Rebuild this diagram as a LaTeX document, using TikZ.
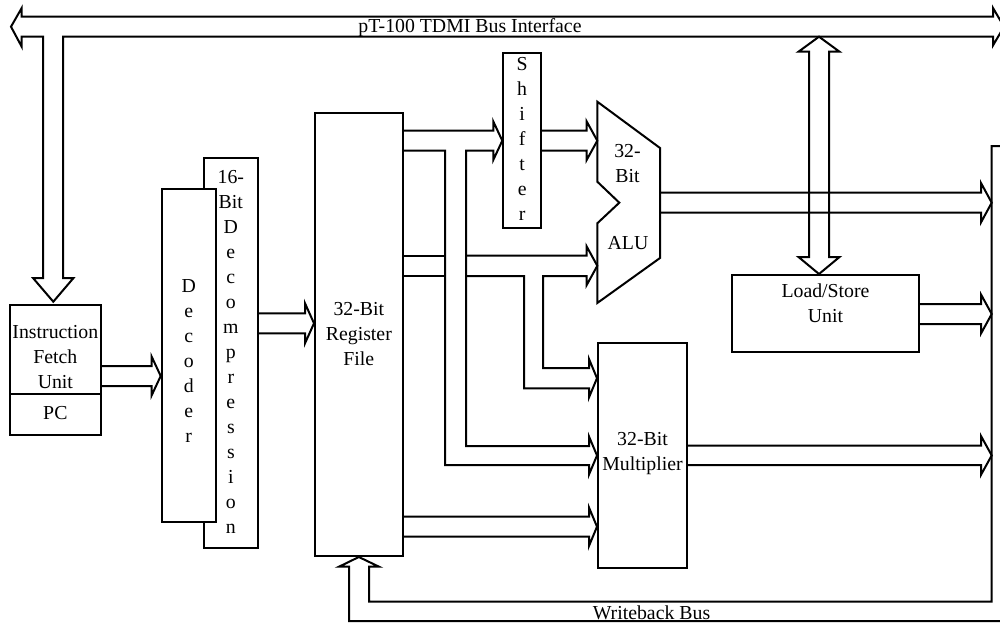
\documentclass[tikz,border=0pt]{standalone}
\usepackage{fontspec}
\setmainfont{Liberation Serif}
\begin{document}
\begin{tikzpicture}[x=1pt,y=-1pt,
  every node/.style={font=\fontsize{19.8}{25}\selectfont},
  box/.style={draw,line width=2pt,fill=white,inner sep=0pt},
  lbl/.style={inner sep=0pt,align=center,execute at begin node=\strut,execute at end node=\strut},
  bus/.style={line width=2pt}]
\useasboundingbox (0,0) rectangle (1000,623);

% blocks
\node[box,minimum width=90.7pt,minimum height=130pt] (ifu) at (55.35,370) {};
\node[box,lbl,minimum width=90.7pt,minimum height=41pt] (pc) at (55.35,414.5) {PC};
\node[lbl] (ifut) at (55.35,361) {Instruction\\Fetch\\Unit};
\node[box,minimum width=53.7pt,minimum height=390pt] (decomp) at (230.85,353) {};
\node[lbl] (decompt) at (230.85,356) {16-\\Bit\\D\\e\\c\\o\\m\\p\\r\\e\\s\\s\\i\\o\\n};
\node[box,minimum width=54pt,minimum height=333pt] (dec) at (188.7,355.5) {};
\node[lbl] (dect) at (188.7,364.5) {D\\e\\c\\o\\d\\e\\r};
\node[box,minimum width=87.7pt,minimum height=443pt] (reg) at (358.85,334.5) {};
\node[lbl] (regt) at (358.85,338) {32-Bit\\Register\\File};
\node[box,minimum width=37.7pt,minimum height=174.7pt] (shift) at (522.15,140.65) {};
\node[lbl] (shiftt) at (522.15,143) {S\\h\\i\\f\\t\\e\\r};
\node[box,lbl,minimum width=89pt,minimum height=225pt] (mult) at (642.5,455.2) {32-Bit\\Multiplier};
\node[box,minimum width=187pt,minimum height=77pt] (ls) at (825.5,313.5) {};
\node[lbl] (lst) at (825.5,307) {Load/Store\\Unit};

% ALU
\draw[line width=2pt,fill=white] (597.3,101.7) -- (660,148) -- (660,258) -- (597.3,303)
  -- (597.3,223.3) -- (619.3,202.7) -- (597.3,181.7) -- cycle;
\coordinate (aluin1) at (597.3,140.7);
\coordinate (aluin2) at (597.3,265.8);
\node[lbl] (alut1) at (627.5,167.5) {32-\\Bit};
\node[lbl] (alut2) at (628,244.5) {ALU};

% top bus
\draw[bus] (21.7,16.7) -- (993,16.7) -- (993,8) -- (1004,26.7) -- (993,45.4) -- (993,36.7)
  -- (63,36.7) -- (63,278) -- (73.5,278) -- (53.3,301.7) -- (33,278) -- (43,278)
  -- (43,36.7) -- (21.7,36.7) -- (21.7,46.7) -- (11,26.7) -- (21.7,8) -- cycle;
\node[lbl] (title) at (470,27.7) {pT-100 TDMI Bus Interface};

% IFU -> decoder
\draw[bus] (ifu.east |- 0,366) -- (151.7,366) -- (151.7,356.7) -- (dec.west |- 0,376)
  -- (151.7,395.3) -- (151.7,386) -- (ifu.east |- 0,386);

% decompression -> register file
\draw[bus] (decomp.east |- 0,313.3) -- (305,313.3) -- (305,303.3) -- (reg.west |- 0,323.3)
  -- (305,343.3) -- (305,333.3) -- (decomp.east |- 0,333.3);

% register -> shifter, register -> multiplier
\draw[bus] (reg.east |- 0,130.7) -- (493.3,130.7) -- (493.3,121.5) -- (shift.west |- 0,140.7)
  -- (493.3,159.9) -- (493.3,150.7) -- (466,150.7) -- (466,446) -- (589,446) -- (589,436.5)
  -- (mult.west |- 0,455.5) -- (589,474.5) -- (589,465) -- (445,465) -- (445,150.7)
  -- (reg.east |- 0,150.7);

% shifter -> ALU
\draw[bus] (shift.east |- 0,130.7) -- (586.7,130.7) -- (586.7,121.5) -- (aluin1)
  -- (586.7,159.9) -- (586.7,150.7) -- (shift.east |- 0,150.7);

% register -> ALU, register -> multiplier
\draw[bus] (reg.east |- 0,255.7) -- (445,255.7);
\draw[bus] (466,255.7) -- (586.7,255.7) -- (586.7,246.5) -- (aluin2) -- (586.7,285)
  -- (586.7,276) -- (543,276) -- (543,368) -- (589,368) -- (589,359) -- (mult.west |- 0,378.2)
  -- (589,397.4) -- (589,388.3) -- (524,388.3) -- (524,276) -- (466,276);
\draw[bus] (445,276) -- (reg.east |- 0,276);

% register -> multiplier (lower)
\draw[bus] (reg.east |- 0,516.7) -- (589,516.7) -- (589,507.5) -- (mult.west |- 0,526.7)
  -- (589,545.9) -- (589,536.7) -- (reg.east |- 0,536.7);

% outputs to writeback
\draw[bus] (660,192.7) -- (981,192.7) -- (981,183) -- (991.7,202.7) -- (981,222.4)
  -- (981,212.7) -- (660,212.7);
\draw[bus] (ls.east |- 0,304) -- (981,304) -- (981,294.5) -- (991.7,314) -- (981,333.5)
  -- (981,324) -- (ls.east |- 0,324);
\draw[bus] (mult.east |- 0,445.7) -- (981,445.7) -- (981,436) -- (991.7,455.4) -- (981,474.8)
  -- (981,465) -- (mult.east |- 0,465);

% bus <-> load/store
\draw[bus] (809,51.7) -- (798.5,51.7) -- (819,36.7) -- (839.5,51.7) -- (829,51.7)
  -- (829,257) -- (839.5,257) -- (819,274) -- (798.5,257) -- (809,257) -- cycle;

% writeback bus
\draw[bus] (1010,146) -- (991.7,146) -- (991.7,601.7) -- (369,601.7) -- (369,566.7)
  -- (379,566.7) -- (reg.south) -- (339,566.7) -- (349,566.7) -- (349,621) -- (1010,621);
\node[lbl] (wbt) at (651.5,614.3) {Writeback Bus};
\end{tikzpicture}
\end{document}
